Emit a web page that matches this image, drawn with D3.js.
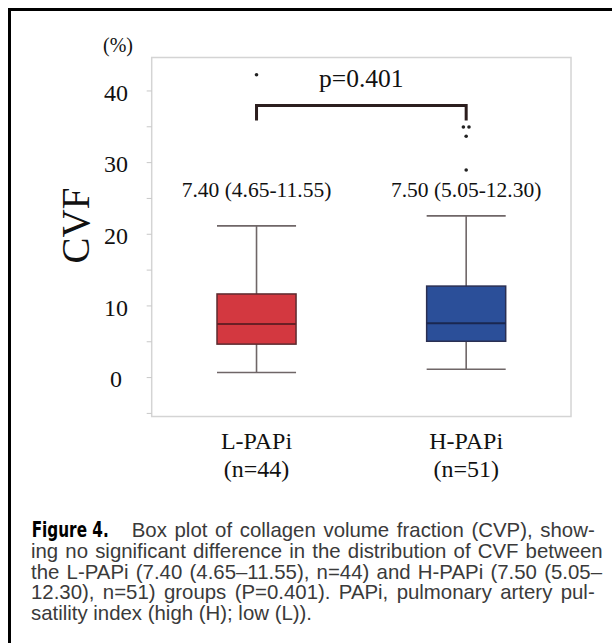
<!DOCTYPE html>
<html>
<head>
<meta charset="utf-8">
<script src="https://cdn.jsdelivr.net/npm/d3@7"></script>
<style>
  body { margin: 0; background: #fff; }
  svg { display: block; }
</style>
</head>
<body>
<div id="chart"></div>
<script>
// Data
const groups = ['L-PAPi', 'H-PAPi'];
const groupN = ['(n=44)', '(n=51)'];
const whiskerLow = [0.65, 1.1];
const q1 = [4.6, 5.0];
const medians = [7.4, 7.5];
const q3 = [11.6, 12.7];
const whiskerHigh = [21.1, 22.5];
const outliers = [[42.2], [34.9, 34.9, 33.6, 28.9]];
const summaryLabels = ['7.40 (4.65-11.55)', '7.50 (5.05-12.30)'];
const pLabel = 'p=0.401';
const yTicks = [-5, 0, 5, 10, 15, 20, 25, 30, 35, 40];
const yLabels = [0, 10, 20, 30, 40];

const captionLines = [
  'Box plot of collagen volume fraction (CVP), show-',
  'ing no significant difference in the distribution of CVF between',
  'the L-PAPi (7.40 (4.65\u201311.55), n=44) and H-PAPi (7.50 (5.05\u2013',
  '12.30), n=51) groups (P=0.401). PAPi, pulmonary artery pul-',
  'satility index (high (H); low (L)).'
];

const width = 612;
const height = 643;
const serif = "'Liberation Serif', 'Times New Roman', serif";
const sans = "'Liberation Sans', Arial, sans-serif";

const frame = { left: 151.7, right: 571, top: 57.5, bottom: 416.5 };

const svg = d3.select('#chart')
  .append('svg')
  .attr('width', width)
  .attr('height', height);

// Outer figure border (top and left visible)
svg.append('path')
  .attr('d', `M9.5,${height} L9.5,9.5 L${width},9.5`)
  .attr('fill', 'none')
  .attr('stroke', '#000')
  .attr('stroke-width', 3);

// Scales
const x = d3.scalePoint()
  .domain(groups)
  .range([frame.left, frame.right])
  .padding(0.5);

const y = d3.scaleLinear()
  .domain([-5.5, 44.6])
  .range([frame.bottom, frame.top]);

const boxW = x.step() * 0.377;
const colors = [
  { fill: '#d33840', stroke: '#5c2b2f', median: '#6a1f25' },
  { fill: '#2b4f99', stroke: '#2a2f52', median: '#1a2750' }
];

// Plot frame
svg.append('rect')
  .attr('x', frame.left)
  .attr('y', frame.top)
  .attr('width', frame.right - frame.left)
  .attr('height', frame.bottom - frame.top)
  .attr('fill', 'none')
  .attr('stroke', '#d4d4d4')
  .attr('stroke-width', 1.5);

// Y axis
const yAxis = svg.append('g')
  .attr('transform', `translate(${frame.left},0)`)
  .call(d3.axisLeft(y)
    .tickValues(yTicks)
    .tickSize(5)
    .tickFormat(d => yLabels.includes(d) ? d : ''));

yAxis.select('.domain').remove();
yAxis.selectAll('line').attr('stroke', '#c8c8c8').attr('stroke-width', 1);
yAxis.selectAll('text')
  .attr('x', 116 - frame.left)
  .attr('dy', '0.41em')
  .attr('text-anchor', 'middle')
  .attr('fill', '#111')
  .style('font-family', serif)
  .style('font-size', '24px');

svg.append('text')
  .attr('x', 118)
  .attr('y', 52)
  .attr('text-anchor', 'middle')
  .style('font-family', serif)
  .style('font-size', '20px')
  .attr('fill', '#111')
  .text('(%)');

svg.append('text')
  .attr('transform', 'translate(89,225.5) rotate(-90)')
  .attr('text-anchor', 'middle')
  .style('font-family', serif)
  .style('font-size', '39px')
  .attr('fill', '#111')
  .text('CVF');

// Boxes
const boxes = svg.selectAll('.box')
  .data(groups)
  .enter()
  .append('g')
  .attr('class', 'box');

// whisker stems
boxes.append('line')
  .attr('x1', d => x(d))
  .attr('x2', d => x(d))
  .attr('y1', (d, i) => y(whiskerLow[i]))
  .attr('y2', (d, i) => y(whiskerHigh[i]))
  .attr('stroke', '#6f6667')
  .attr('stroke-width', 1.6);

// whisker caps
[whiskerLow, whiskerHigh].forEach(arr => {
  boxes.append('line')
    .attr('x1', d => x(d) - boxW / 2)
    .attr('x2', d => x(d) + boxW / 2)
    .attr('y1', (d, i) => y(arr[i]))
    .attr('y2', (d, i) => y(arr[i]))
    .attr('stroke', '#6f6667')
    .attr('stroke-width', 1.6);
});

boxes.append('rect')
  .attr('x', d => x(d) - boxW / 2)
  .attr('y', (d, i) => y(q3[i]))
  .attr('width', boxW)
  .attr('height', (d, i) => y(q1[i]) - y(q3[i]))
  .attr('fill', (d, i) => colors[i].fill)
  .attr('stroke', (d, i) => colors[i].stroke)
  .attr('stroke-width', 1.5);

boxes.append('line')
  .attr('x1', d => x(d) - boxW / 2)
  .attr('x2', d => x(d) + boxW / 2)
  .attr('y1', (d, i) => y(medians[i]))
  .attr('y2', (d, i) => y(medians[i]))
  .attr('stroke', (d, i) => colors[i].median)
  .attr('stroke-width', 2);

// Outliers (duplicates spread sideways)
groups.forEach((g, i) => {
  const counts = d3.rollup(outliers[i], v => v.length, v => v);
  const seen = new Map();
  outliers[i].forEach(v => {
    const n = counts.get(v);
    const k = seen.get(v) || 0;
    seen.set(v, k + 1);
    const dx = n > 1 ? (k - (n - 1) / 2) * 5.6 : 0;
    svg.append('circle')
      .attr('cx', x(g) + dx)
      .attr('cy', y(v))
      .attr('r', 1.8)
      .attr('fill', '#222');
  });
});

// Summary labels
svg.selectAll('.summary')
  .data(summaryLabels)
  .enter()
  .append('text')
  .attr('x', (d, i) => x(groups[i]))
  .attr('y', 196.7)
  .attr('text-anchor', 'middle')
  .style('font-family', serif)
  .style('font-size', '21.5px')
  .attr('fill', '#111')
  .text(d => d);

// Significance bracket
const bx0 = x(groups[0]);
const bx1 = x(groups[1]);
svg.append('path')
  .attr('d', `M${bx0},${y(35.8)} L${bx0},${y(37.9)} L${bx1},${y(37.9)} L${bx1},${y(35.8)}`)
  .attr('fill', 'none')
  .attr('stroke', '#2b1e1e')
  .attr('stroke-width', 3);

svg.append('text')
  .attr('x', (bx0 + bx1) / 2)
  .attr('y', 87.3)
  .attr('text-anchor', 'middle')
  .style('font-family', serif)
  .style('font-size', '25.5px')
  .attr('fill', '#111')
  .text(pLabel);

// X category labels
groups.forEach((g, i) => {
  svg.append('text')
    .attr('x', x(g))
    .attr('y', 449)
    .attr('text-anchor', 'middle')
    .style('font-family', serif)
    .style('font-size', '24px')
    .attr('fill', '#111')
    .text(g);
  svg.append('text')
    .attr('x', x(g))
    .attr('y', 477)
    .attr('text-anchor', 'middle')
    .style('font-family', serif)
    .style('font-size', '24px')
    .attr('fill', '#111')
    .text(groupN[i]);
});

// Caption
svg.append('text')
  .attr('x', 31.7)
  .attr('y', 537)
  .attr('textLength', 77)
  .attr('lengthAdjust', 'spacingAndGlyphs')
  .style('font-family', "'Liberation Sans Narrow', 'DejaVu Sans Condensed', sans-serif")
  .style('font-weight', 'bold')
  .style('font-size', '22px')
  .attr('fill', '#000')
  .text('Figure 4.');

// justified lines: spread the gaps between words, not the letters
const capStart = [131.7, 31, 31, 31, 31];
const capEnd = [594.7, 602.7, 602, 594.7, null];
captionLines.forEach((line, i) => {
  const t = svg.append('text')
    .attr('x', capStart[i])
    .attr('y', 537 + i * 20.75)
    .style('font-family', sans)
    .style('font-size', '20.4px')
    .attr('fill', '#3a3a3a')
    .text(line);
  if (capEnd[i] !== null) {
    const natural = t.node().getComputedTextLength();
    const gaps = line.split(' ').length - 1;
    const extra = (capEnd[i] - capStart[i] - natural) / gaps;
    if (extra >= 0) {
      t.style('word-spacing', `${extra}px`);
    } else {
      t.attr('textLength', capEnd[i] - capStart[i]).attr('lengthAdjust', 'spacingAndGlyphs');
    }
  }
});
</script>
</body>
</html>
